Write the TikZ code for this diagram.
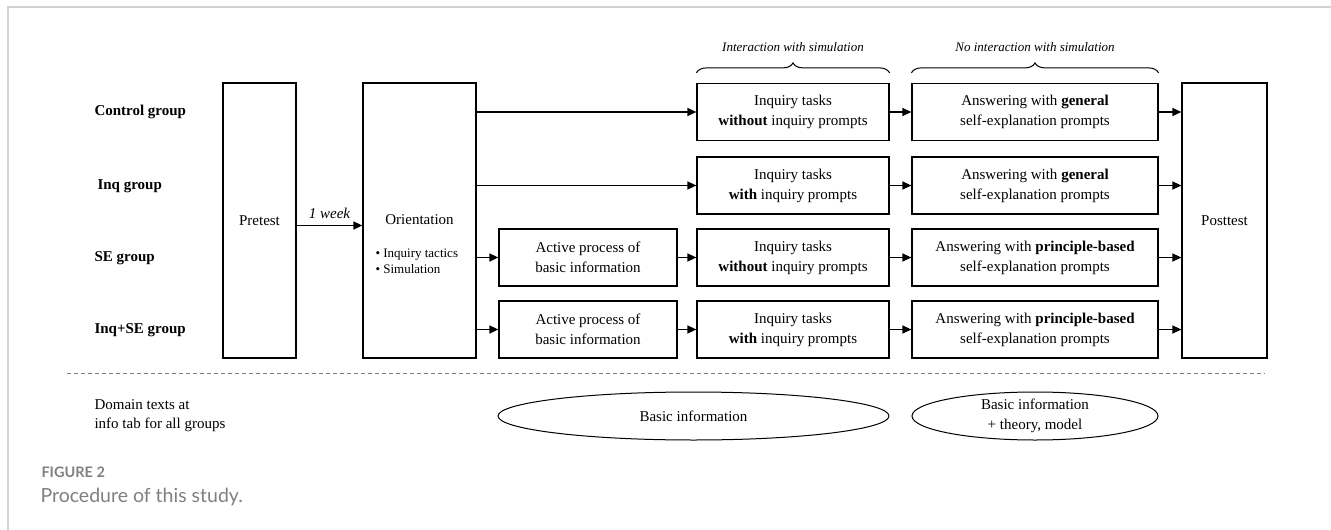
\documentclass[tikz,border=0pt]{standalone}
\usepackage{fontspec}
\setmainfont{Liberation Serif}
\newfontfamily\capfont{Lato}
\usetikzlibrary{positioning, arrows.meta, decorations.pathreplacing, shapes.geometric}

\definecolor{framegray}{HTML}{D2D2D2}
\definecolor{capgray}{HTML}{808080}

\begin{document}
\begin{tikzpicture}[
    x=1pt, y=-1pt,
    font=\fontsize{15}{20}\selectfont,
    box/.style={draw=black, line width=1.2pt, minimum height=57pt, inner sep=0pt, align=center},
    tall/.style={draw=black, line width=1.2pt, minimum height=275pt, inner sep=0pt, align=center},
    flow/.style={-{Triangle[length=9pt, width=8pt]}, line width=1.2pt},
    bracket/.style={decorate, decoration={brace, amplitude=10pt}, line width=1pt},
    infocloud/.style={draw=black, ellipse, line width=1pt, minimum height=48pt, inner sep=0pt, align=center},
    grouplabel/.style={anchor=west, font=\fontsize{15}{20}\selectfont\bfseries},
    note/.style={font=\fontsize{13}{16}\selectfont\itshape},
]
\useasboundingbox (0,0) rectangle (1331,530);

% Rahmen
\draw[framegray, line width=2pt] (8,530) -- (8,7) -- (1331,7);

% Gruppen
\node[grouplabel] (gctrl) at (91,112) {Control group};
\node[grouplabel] (ginq) at (94,186) {Inq group};
\node[grouplabel] (gse) at (91,258) {SE group};
\node[grouplabel] (gboth) at (91,330) {Inq+SE group};

% Kaesten
\node[tall, minimum width=73pt] (pre) at (259.5,220.5) {Pretest};
\node[tall, minimum width=113pt] (ori) at (419.5,220.5) {};
\node (oritxt) at (419.5,220) {Orientation};
\node[anchor=west, align=left, font=\fontsize{13}{16}\selectfont] (oritac) at (372,261) {\textbullet\ Inquiry tactics\\\textbullet\ Simulation};
\node[tall, minimum width=85pt] (post) at (1224.5,220.5) {Posttest};

\node[box, minimum width=178pt] (act3) at (588,257.5) {Active process of\\basic information};
\node[box, minimum width=178pt] (act4) at (588,329.5) {Active process of\\basic information};

\node[box, minimum width=192pt] (inq1) at (793,112) {Inquiry tasks\\\textbf{without} inquiry prompts};
\node[box, minimum width=192pt] (inq2) at (793,185.5) {Inquiry tasks\\\textbf{with} inquiry prompts};
\node[box, minimum width=192pt] (inq3) at (793,257.5) {Inquiry tasks\\\textbf{without} inquiry prompts};
\node[box, minimum width=192pt] (inq4) at (793,329.5) {Inquiry tasks\\\textbf{with} inquiry prompts};

\node[box, minimum width=246pt] (ans1) at (1035,112) {Answering with \textbf{general}\\self-explanation prompts};
\node[box, minimum width=246pt] (ans2) at (1035,185.5) {Answering with \textbf{general}\\self-explanation prompts};
\node[box, minimum width=246pt] (ans3) at (1035,257.5) {Answering with \textbf{principle-based}\\self-explanation prompts};
\node[box, minimum width=246pt] (ans4) at (1035,329.5) {Answering with \textbf{principle-based}\\self-explanation prompts};

% Pfeile
\draw[flow] ([yshift=-5pt]pre.east) -- node[above=3pt, font=\fontsize{15}{18}\selectfont\itshape] {1 week} ([yshift=-5pt]ori.west);
\draw[flow] (ori.east |- inq1) -- (inq1);
\draw[flow] (ori.east |- inq2) -- (inq2);
\draw[flow] (ori.east |- act3) -- (act3);
\draw[flow] (ori.east |- act4) -- (act4);
\draw[flow] (act3) -- (inq3);
\draw[flow] (act4) -- (inq4);
\foreach \i in {1,...,4} {
    \draw[flow] (inq\i) -- (ans\i);
    \draw[flow] (ans\i) -- (post.west |- ans\i);
}

% Klammern
\draw[bracket] ([yshift=10pt]inq1.north west) -- ([yshift=10pt]inq1.north east);
\draw[bracket] ([yshift=10pt]ans1.north west) -- ([yshift=10pt]ans1.north east);
\node[note] (sim) at (793,47) {Interaction with simulation};
\node[note] (nosim) at (1035,47) {No interaction with simulation};

% Trennlinie
\coordinate (sepl) at (67,373);
\coordinate (sepr) at (1265,373);
\draw[capgray, line width=0.8pt, dash pattern=on 4pt off 3pt] (sepl) -- (sepr);

% Domaenentexte
\node[anchor=west, align=left, font=\fontsize{15}{19}\selectfont] (dom) at (91,416) {Domain texts at\\info tab for all groups};
\node[infocloud, minimum width=391pt] (basic) at (693.5,416) {Basic information};
\node[infocloud, minimum width=246pt] (theory) at (1035,416) {Basic information\\+ theory, model};

% Bildunterschrift
\node[anchor=west, text=capgray, font=\capfont\bfseries\fontsize{14.5}{17}\selectfont] (fig) at (38,472) {FIGURE 2};
\node[anchor=west, text=capgray, font=\capfont\fontsize{19.5}{22}\selectfont] (cap) at (37,497) {Procedure of this study.};

\end{tikzpicture}
\end{document}
